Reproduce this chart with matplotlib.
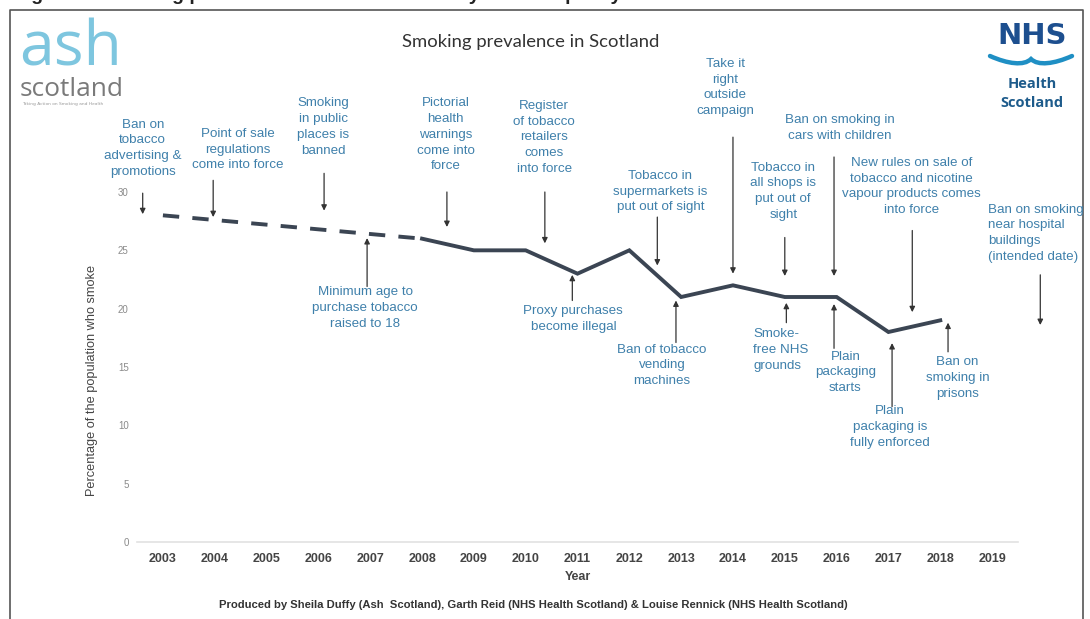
import matplotlib
matplotlib.use('Agg')
import matplotlib.pyplot as plt
from matplotlib.path import Path
import matplotlib.patches as mpatches

# ---------------- data ----------------
year_ticks = list(range(2003, 2020))
est_years = [2003, 2008]            # dashed (estimated) section
est_values = [28, 26]
survey_years = [2008, 2009, 2010, 2011, 2012, 2013, 2014, 2015, 2016, 2017, 2018]
survey_values = [26, 25, 25, 23, 25, 21, 22, 21, 21, 18, 19]
y_ticks = [0, 5, 10, 15, 20, 25, 30]

title = "Smoking prevalence in Scotland"
y_label = "Percentage of the population who smoke"
x_label = "Year"
footer = ("Produced by Sheila Duffy (Ash  Scotland), Garth Reid (NHS Health Scotland) "
          "& Louise Rennick (NHS Health Scotland)")

# events: label, text x, text top y, ha, arrow x, arrow tail y, arrow head y
events_above = [
    ("Ban on\ntobacco\nadvertising &\npromotions", 2002.61, 36.3, 'center', 2002.61, 29.9, 28.1),
    ("Point of sale\nregulations\ncome into force", 2004.45, 35.5, 'center', 2003.97, 31.0, 27.85),
    ("Smoking\nin public\nplaces is\nbanned", 2006.09, 38.1, 'center', 2006.11, 31.6, 28.4),
    ("Pictorial\nhealth\nwarnings\ncome into\nforce", 2008.46, 38.1, 'center', 2008.48, 30.0, 27.0),
    ("Register\nof tobacco\nretailers\ncomes\ninto force", 2010.36, 37.9, 'center', 2010.37, 30.0, 25.6),
    ("Tobacco in\nsupermarkets is\nput out of sight", 2012.6, 31.9, 'center', 2012.54, 27.85, 23.7),
    ("Take it\nright\noutside\ncampaign", 2013.85, 41.5, 'center', 2014.0, 34.7, 23.0),
    ("Ban on smoking in\ncars with children", 2016.07, 36.7, 'center', 2015.95, 33.0, 22.8),
    ("Tobacco in\nall shops is\nput out of\nsight", 2014.97, 32.6, 'center', 2015.0, 26.1, 22.8),
    ("New rules on sale of\ntobacco and nicotine\nvapour products comes\ninto force", 2017.44, 33.0, 'center', 2017.46, 26.7, 19.7),
    ("Ban on smoking\nnear hospital\nbuildings\n(intended date)", 2018.93, 29.0, 'left', 2019.93, 22.9, 18.6),
]
events_below = [
    ("Minimum age to\npurchase tobacco\nraised to 18", 2006.9, 21.9, 'center', 2006.94, 21.9, 26.05),
    ("Proxy purchases\nbecome illegal", 2010.92, 20.3, 'center', 2010.9, 20.7, 22.9),
    ("Ban of tobacco\nvending\nmachines", 2012.63, 17.0, 'center', 2012.9, 17.1, 20.7),
    ("Smoke-\nfree NHS\ngrounds", 2014.39, 18.3, 'left', 2015.03, 18.8, 20.5),
    ("Plain\npackaging\nstarts", 2016.17, 16.4, 'center', 2015.95, 16.6, 20.4),
    ("Plain\npackaging is\nfully enforced", 2017.03, 11.7, 'center', 2017.07, 11.6, 17.05),
    ("Ban on\nsmoking in\nprisons", 2018.33, 15.9, 'center', 2018.15, 16.3, 18.8),
]

W, H = 1090, 619
TXT = '#3f80ab'
LINE = '#3b4553'
NARROW = ['Liberation Sans Narrow', 'Liberation Sans', 'DejaVu Sans']

fig = plt.figure(figsize=(W / 100, H / 100), dpi=100)
fig.patch.set_facecolor('white')

# ---------------- decoration layer (pixel coordinates) ----------------
deco = fig.add_axes([0, 0, 1, 1], zorder=-1)
deco.set_xlim(0, W)
deco.set_ylim(H, 0)
deco.axis('off')

# frame
deco.plot([10, 10, 1083, 1083], [H + 5, 10, 10, H + 5], color='#555555', lw=1.2)
# cut-off heading at the very top (only the bottom of the glyphs is visible)
deco.text(14, -0.5, "Figure 1: Smoking prevalence in Scotland and key tobacco policy milestones",
          fontsize=14, fontweight='bold', color='#222222', va='baseline', ha='left',
          family=['Liberation Sans', 'DejaVu Sans'])

# ash scotland logo
deco.text(19, 65, "ash", fontsize=45, color='#7ec6df', family=['Open Sans', 'DejaVu Sans'],
          va='baseline', ha='left')
deco.text(20, 96, "scotland", fontsize=19, color='#7a7a7a', family=['Open Sans', 'DejaVu Sans'],
          va='baseline', ha='left')
deco.text(22, 105, "Taking Action on Smoking and Health", fontsize=3.2, color='#999999',
          va='baseline', ha='left')

# NHS Health Scotland logo
deco.text(1032, 44, "NHS", fontsize=21, fontweight='bold', color='#1d4f8f',
          va='baseline', ha='center', family=['DejaVu Sans'])
verts = [(990, 56), (1008, 64), (1024, 66), (1031, 59),
         (1038, 66), (1054, 64), (1072, 56)]
codes = [Path.MOVETO, Path.CURVE4, Path.CURVE4, Path.CURVE4, Path.CURVE4, Path.CURVE4, Path.CURVE4]
deco.add_patch(mpatches.PathPatch(Path(verts, codes), fill=False, lw=3.2,
                                  edgecolor='#1f8fc4', capstyle='round'))
deco.text(1032, 88, "Health", fontsize=10.5, fontweight='bold', color='#1d5b8b',
          va='baseline', ha='center', family=['Open Sans', 'DejaVu Sans'])
deco.text(1032, 107, "Scotland", fontsize=10.5, fontweight='bold', color='#1d5b8b',
          va='baseline', ha='center', family=['Open Sans', 'DejaVu Sans'])

# ---------------- main chart ----------------
ax = fig.add_axes([137 / W, 1 - 542 / H, (1018 - 137) / W, (542 - 192) / H])
ax.patch.set_alpha(0)
ax.set_xlim(2002.5, 2019.5)
ax.set_ylim(0, 30)

ax.plot(est_years, est_values, color=LINE, lw=2.8, ls=(0, (4.2, 3.4)),
        dash_capstyle='butt', zorder=3)
ax.plot(survey_years, survey_values, color=LINE, lw=2.8, solid_joinstyle='miter', zorder=3)

for s in ['top', 'right', 'left']:
    ax.spines[s].set_visible(False)
ax.spines['bottom'].set_color('#e2e2e2')
ax.spines['bottom'].set_linewidth(1.2)

ax.set_xticks(year_ticks)
ax.set_xticklabels([str(y) for y in year_ticks], fontsize=9, fontweight='bold',
                   color='#444444', family=NARROW)
ax.set_yticks(y_ticks)
ax.set_yticklabels([str(v) for v in y_ticks], fontsize=7, color='#8a8a8a',
                   family=['Liberation Sans', 'DejaVu Sans'])
ax.tick_params(axis='x', length=0, pad=8)
ax.tick_params(axis='y', length=0, pad=6)

arrow_kw = dict(arrowstyle='-|>', color='#333333', lw=0.9, mutation_scale=8,
                shrinkA=0, shrinkB=0)
for label, tx, ty, ha, axx, tail, head in events_above + events_below:
    ax.text(tx, ty, label, ha=ha, va='top', fontsize=9.6, color=TXT, linespacing=1.41,
            family=['Liberation Sans', 'DejaVu Sans'], clip_on=False, multialignment=ha)
    ax.annotate('', xy=(axx, head), xytext=(axx, tail), arrowprops=arrow_kw,
                annotation_clip=False)

# titles and labels
fig.text(531 / W, 1 - 42 / H, title, fontsize=13.3, color='#333333',
         ha='center', va='center', family=['Lato', 'DejaVu Sans'])
fig.text(92 / W, 1 - 380 / H, y_label, rotation=90, fontsize=9.2, color='#444444',
         ha='center', va='center', family=['Liberation Sans', 'DejaVu Sans'])
fig.text(578 / W, 1 - 577 / H, x_label, fontsize=9, fontweight='bold', color='#444444',
         ha='center', va='center', family=NARROW)
fig.text(533 / W, 1 - 605 / H, footer, fontsize=8.1, fontweight='bold', color='#333333',
         ha='center', va='center', family=NARROW)

fig.savefig('out.png', dpi=100, facecolor='white')
